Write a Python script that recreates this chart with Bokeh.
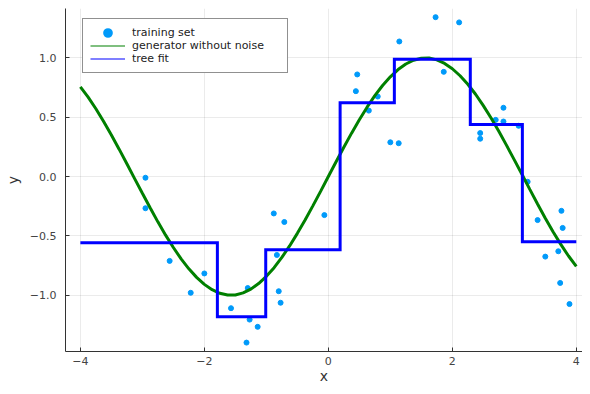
from bokeh.plotting import figure
from bokeh.models import (ColumnDataSource, Legend, LegendItem, FixedTicker,
                          CustomJSTickFormatter, Range1d)
from bokeh.embed import file_html
from bokeh.resources import INLINE

# training set
train_x = [-2.95, -2.95, -2.56, -2.0, -2.22, -1.57, -1.30, -1.27, -1.14, -1.32,
           -0.88, -0.71, -0.83, -0.80, -0.77, -0.064, 3.376, 3.76, 3.78, 3.50,
           3.71, 3.74, 3.89, 3.215, 1.73, 2.11, 1.145, 0.466, 0.444, 0.797,
           0.653, 1.862, 1.0, 1.135, 2.825, 2.70, 2.825, 3.07, 2.45, 2.45]
train_y = [-0.01, -0.267, -0.711, -0.817, -0.98, -1.11, -0.94, -1.206, -1.267, -1.40,
           -0.311, -0.383, -0.661, -0.967, -1.064, -0.325, -0.367, -0.289, -0.433, -0.675,
           -0.63, -0.897, -1.075, -0.044, 1.344, 1.30, 1.139, 0.861, 0.72, 0.675,
           0.556, 0.883, 0.289, 0.281, 0.58, 0.478, 0.464, 0.428, 0.367, 0.319]

# generator without noise (curve)
gen_x = [-4.0, -3.875, -3.75, -3.625, -3.5, -3.375, -3.25, -3.125, -3.0, -2.875,
         -2.75, -2.625, -2.5, -2.375, -2.25, -2.125, -2.0, -1.875, -1.75, -1.625,
         -1.5, -1.375, -1.25, -1.125, -1.0, -0.875, -0.75, -0.625, -0.5, -0.375,
         -0.25, -0.125, 0.0, 0.125, 0.25, 0.375, 0.5, 0.625, 0.75, 0.875,
         1.0, 1.125, 1.25, 1.375, 1.5, 1.625, 1.75, 1.875, 2.0, 2.125,
         2.25, 2.375, 2.5, 2.625, 2.75, 2.875, 3.0, 3.125, 3.25, 3.375,
         3.5, 3.625, 3.75, 3.875, 4.0]
gen_y = [0.757, 0.670, 0.572, 0.465, 0.351, 0.231, 0.108, -0.017, -0.141, -0.263,
         -0.382, -0.494, -0.598, -0.694, -0.778, -0.850, -0.909, -0.954, -0.984, -0.999,
         -0.998, -0.981, -0.949, -0.902, -0.841, -0.768, -0.682, -0.585, -0.479, -0.366,
         -0.247, -0.125, 0.0, 0.125, 0.247, 0.366, 0.479, 0.585, 0.682, 0.768,
         0.841, 0.902, 0.949, 0.981, 0.998, 0.999, 0.984, 0.954, 0.909, 0.850,
         0.778, 0.694, 0.598, 0.494, 0.382, 0.263, 0.141, 0.017, -0.108, -0.231,
         -0.351, -0.465, -0.572, -0.670, -0.757]

# tree fit (split points and leaf values)
tree_x = [-4.0, -1.79, -1.01, 0.19, 1.065, 2.29, 3.13, 4.0]
tree_y = [-0.558, -1.183, -0.617, 0.622, 0.99, 0.439, -0.55, -0.55]

x_ticks = [-4, -2, 0, 2, 4]
y_ticks = [-1.0, -0.5, 0.0, 0.5, 1.0]

FONT = "DejaVu Sans"

p = figure(width=582, height=386, output_backend="svg", toolbar_location=None,
           x_range=Range1d(-4.24, 4.10), y_range=Range1d(-1.475, 1.417),
           min_border_left=65, min_border_right=0, min_border_top=8,
           min_border_bottom=34)
p.outline_line_color = None
p.background_fill_color = "white"
p.border_fill_color = "white"
# a range far off-screen, used only by the legend proxy glyphs
p.extra_y_ranges = {"hidden": Range1d(100, 101)}

pts_src = ColumnDataSource(data=dict(x=train_x, y=train_y))
gen_src = ColumnDataSource(data=dict(x=gen_x, y=gen_y))

r_pts = p.scatter("x", "y", source=pts_src, size=5, fill_color="#009AFA", line_color="#009AFA")
r_gen = p.line("x", "y", source=gen_src, line_color="green", line_width=3)
r_tree = p.step(tree_x, tree_y, mode="after", line_color="blue", line_width=3,
                line_join="miter")

# legend proxies (drawn on the hidden range, so invisible in the plot)
l_pts = p.scatter("x", "y", source=pts_src, y_range_name="hidden", size=10,
                  fill_color="#009AFA", line_color="#009AFA", line_width=4.5)
l_gen = p.line("x", "y", source=gen_src, y_range_name="hidden",
               line_color="green", line_width=2, line_alpha=0.5)
l_tree = p.line("x", "y", source=gen_src, y_range_name="hidden",
                line_color="blue", line_width=2, line_alpha=0.5)

legend = Legend(items=[LegendItem(label="training set", renderers=[l_pts]),
                       LegendItem(label="generator without noise", renderers=[l_gen]),
                       LegendItem(label="tree fit", renderers=[l_tree])],
                location=(17, 278), padding=7, spacing=0, margin=0,
                label_height=13, glyph_height=13, glyph_width=35, label_standoff=7,
                label_width=148,
                label_text_font=FONT, label_text_font_size="11px",
                label_text_color="#222222",
                border_line_color="#222222", border_line_width=1,
                background_fill_color="white", background_fill_alpha=1.0)
p.add_layout(legend, "center")

for ax in (p.xaxis, p.yaxis):
    ax.axis_line_color = "#333333"
    ax.axis_line_width = 1
    ax.major_tick_in = 4
    ax.major_tick_out = 0
    ax.minor_tick_line_color = None
    ax.major_tick_line_color = "#333333"
    ax.major_label_text_font = FONT
    ax.major_label_text_font_size = "11px"
    ax.major_label_text_color = "#444444"
    ax.axis_label_text_font = FONT
    ax.axis_label_text_font_size = "14px"
    ax.axis_label_text_font_style = "normal"
    ax.axis_label_text_color = "#333333"

p.xaxis.axis_label = "x"
p.yaxis.axis_label = "y"
p.xaxis.ticker = FixedTicker(ticks=x_ticks)
p.yaxis.ticker = FixedTicker(ticks=y_ticks)
p.xaxis.formatter = CustomJSTickFormatter(code="return tick.toFixed(0).replace('-', '\u2212');")
p.yaxis.formatter = CustomJSTickFormatter(code="return tick.toFixed(1).replace('-', '\u2212');")
p.xaxis.major_label_standoff = 5
p.yaxis.major_label_standoff = 9
p.xaxis.axis_label_standoff = 0
p.yaxis.axis_label_standoff = 6

p.xgrid.ticker = FixedTicker(ticks=x_ticks)
p.ygrid.ticker = FixedTicker(ticks=y_ticks)
p.xgrid.grid_line_color = "black"
p.ygrid.grid_line_color = "black"
p.xgrid.grid_line_alpha = 0.08
p.ygrid.grid_line_alpha = 0.08

open("out.html", "w").write(file_html(p, INLINE))
